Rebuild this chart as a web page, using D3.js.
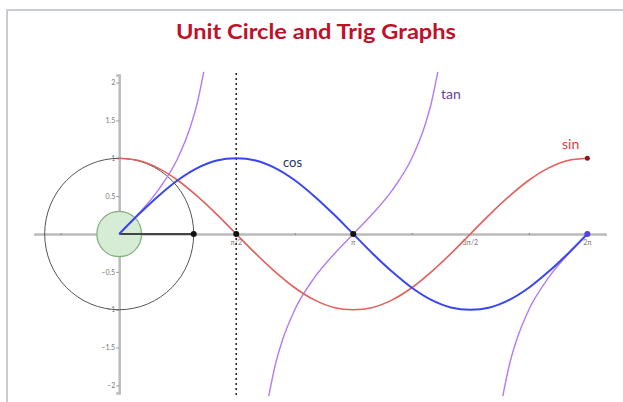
<!DOCTYPE html>
<html>
<head>
<meta charset="utf-8">
<script src="https://cdn.jsdelivr.net/npm/d3@7"></script>
<style>
  body { margin: 0; background: #fff; }
  text { font-family: Lato, "Open Sans", sans-serif; }
</style>
</head>
<body>
<div id="chart"></div>
<script>
// Angles in degrees, sampled every 15 degrees from 0 to 360
const angles = d3.range(0, 361, 15);
// blue curve (labelled "cos" in the picture)
const blueVals = [0, 0.26, 0.5, 0.71, 0.87, 0.97, 1, 0.97, 0.87, 0.71, 0.5, 0.26, 0,
  -0.26, -0.5, -0.71, -0.87, -0.97, -1, -0.97, -0.87, -0.71, -0.5, -0.26, 0];
// red curve (labelled "sin")
const redVals = [1, 0.97, 0.87, 0.71, 0.5, 0.26, 0, -0.26, -0.5, -0.71, -0.87, -0.97, -1,
  -0.97, -0.87, -0.71, -0.5, -0.26, 0, 0.26, 0.5, 0.71, 0.87, 0.97, 1];
// tan branches as [degrees, value]
const tanBranch1 = [[0, 0], [15, 0.27], [30, 0.58], [45, 1], [55, 1.43], [60, 1.73], [65, 2.14]];
const tanBranch2 = [[115, -2.14], [120, -1.73], [125, -1.43], [135, -1], [150, -0.58], [165, -0.27],
  [180, 0], [195, 0.27], [210, 0.58], [225, 1], [235, 1.43], [240, 1.73], [245, 2.14]];
const tanBranch3 = [[295, -2.14], [300, -1.73], [305, -1.43], [315, -1], [330, -0.58], [345, -0.27], [360, 0]];

const yTicks = [-2, -1.5, -1, -0.5, 0.5, 1, 1.5, 2];
const yTickLabels = ["\u22122", "\u22121.5", "\u22121", "\u22120.5", "0.5", "1", "1.5", "2"];
const xTicks = [-45, 45, 90, 135, 180, 225, 270, 315, 360];
const xLabels = [[90, "\u03c0/2"], [180, "\u03c0"], [270, "3\u03c0/2"], [360, "2\u03c0"]];
const blackDots = [[57.3, 0], [90, 0], [180, 0]];

const width = 623, height = 402;
const rad = (d) => d * Math.PI / 180;

const x = d3.scaleLinear().domain([-1.13, 6.52]).range([35, 605]);
const y = d3.scaleLinear().domain([-2.1, 2.1]).range([393, 75]);

const svg = d3.select("#chart").append("svg")
  .attr("width", width).attr("height", height);

// card frame
svg.append("rect")
  .attr("x", 7).attr("y", 10)
  .attr("width", 660).attr("height", 420)
  .attr("fill", "#fff")
  .attr("stroke", "#c9cdd2")
  .attr("stroke-width", 2);

svg.append("text")
  .attr("x", 316).attr("y", 39)
  .attr("text-anchor", "middle")
  .attr("font-size", "21px")
  .attr("font-weight", "bold")
  .attr("fill", "#c0102a")
  .attr("textLength", 280)
  .attr("lengthAdjust", "spacingAndGlyphs")
  .text("Unit Circle and Trig Graphs");

// x axis
const xAxis = svg.append("g")
  .attr("transform", `translate(0,${y(0)})`)
  .call(d3.axisBottom(x).tickValues(xTicks.map(rad)).tickSize(2).tickFormat(""));
xAxis.select(".domain").attr("stroke", "#bbb").attr("stroke-width", 2.5);
xAxis.selectAll(".tick line").attr("stroke", "#888").attr("transform", "translate(0,-1)");

svg.selectAll(".xlab")
  .data(xLabels)
  .enter().append("text")
  .attr("x", (d) => x(rad(d[0])))
  .attr("y", y(0) + 11)
  .attr("text-anchor", "middle")
  .attr("font-size", "7px")
  .attr("fill", "#777")
  .text((d) => d[1]);

// y axis
const yAxis = svg.append("g")
  .attr("transform", `translate(${x(0)},0)`)
  .call(d3.axisLeft(y).tickValues(yTicks).tickSize(3)
    .tickFormat((d, i) => yTickLabels[i]));
yAxis.select(".domain").attr("stroke", "#bbb").attr("stroke-width", 2.5);
yAxis.selectAll(".tick line").attr("stroke", "#999");
yAxis.selectAll(".tick text")
  .attr("font-size", "7px")
  .attr("fill", "#777")
  .attr("x", -4);

// unit circle
svg.append("ellipse")
  .attr("cx", x(0)).attr("cy", y(0))
  .attr("rx", x(1) - x(0)).attr("ry", y(0) - y(1))
  .attr("fill", "none")
  .attr("stroke", "#555")
  .attr("stroke-width", 1);

// small angle marker
svg.append("ellipse")
  .attr("cx", x(0)).attr("cy", y(0))
  .attr("rx", x(0.3) - x(0)).attr("ry", y(0) - y(0.3))
  .attr("fill", "#d6ecd4")
  .attr("stroke", "#7fb07a")
  .attr("stroke-width", 1.2);

// segment from origin to (1,0)
svg.append("line")
  .attr("x1", x(0)).attr("y1", y(0))
  .attr("x2", x(1)).attr("y2", y(0))
  .attr("stroke", "#444").attr("stroke-width", 2);

// dashed vertical at pi/2
svg.append("line")
  .attr("x1", x(rad(90))).attr("x2", x(rad(90)))
  .attr("y1", 73).attr("y2", 396)
  .attr("stroke", "#222")
  .attr("stroke-width", 1.5)
  .attr("stroke-dasharray", "2,3");

const line = d3.line()
  .x((d) => x(rad(d[0])))
  .y((d) => y(d[1]))
  .curve(d3.curveMonotoneX);

[tanBranch1, tanBranch2, tanBranch3].forEach(function (branch) {
  svg.append("path")
    .datum(branch)
    .attr("d", line)
    .attr("fill", "none")
    .attr("stroke", "#b27cf2")
    .attr("stroke-width", 1.4);
});

svg.append("path")
  .datum(angles.map((a, i) => [a, redVals[i]]))
  .attr("d", line.curve(d3.curveCatmullRom))
  .attr("fill", "none")
  .attr("stroke", "#e0605c")
  .attr("stroke-width", 1.6);

svg.append("path")
  .datum(angles.map((a, i) => [a, blueVals[i]]))
  .attr("d", line.curve(d3.curveCatmullRom))
  .attr("fill", "none")
  .attr("stroke", "#3a46f0")
  .attr("stroke-width", 2);

// points
svg.selectAll(".bdot")
  .data(blackDots)
  .enter().append("circle")
  .attr("cx", (d) => x(rad(d[0])))
  .attr("cy", (d) => y(d[1]))
  .attr("r", 3)
  .attr("fill", "#111");

svg.append("circle")
  .attr("cx", x(rad(360))).attr("cy", y(1))
  .attr("r", 2.5).attr("fill", "#8a1a1a");
svg.append("circle")
  .attr("cx", x(rad(360))).attr("cy", y(0))
  .attr("r", 3).attr("fill", "#5a40e0");

// curve labels
svg.append("text")
  .attr("x", 283).attr("y", 167)
  .attr("font-family", "'Open Sans', sans-serif")
  .attr("font-size", "13px")
  .attr("fill", "#23345e")
  .text("cos");
svg.append("text")
  .attr("x", 441).attr("y", 99)
  .attr("font-family", "'Open Sans', sans-serif")
  .attr("font-size", "14px")
  .attr("fill", "#6a3f9a")
  .text("tan");
svg.append("text")
  .attr("x", 562).attr("y", 149)
  .attr("font-family", "'Open Sans', sans-serif")
  .attr("font-size", "14px")
  .attr("fill", "#e0403c")
  .text("sin");
</script>
</body>
</html>
